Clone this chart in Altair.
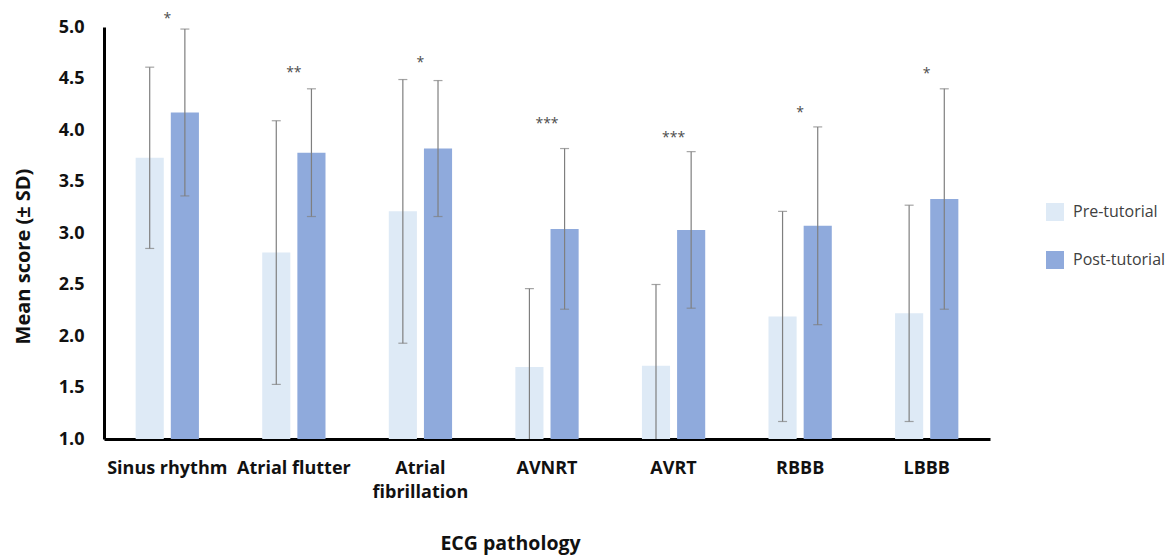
import altair as alt
import pandas as pd

categories = ["Sinus rhythm", "Atrial flutter", "Atrial fibrillation", "AVNRT", "AVRT", "RBBB", "LBBB"]
groups = ["Pre-tutorial", "Post-tutorial"]
pre_mean = [3.73, 2.81, 3.21, 1.70, 1.71, 2.19, 2.22]
pre_sd = [0.88, 1.28, 1.28, 0.76, 0.79, 1.02, 1.05]
post_mean = [4.17, 3.78, 3.82, 3.04, 3.03, 3.07, 3.33]
post_sd = [0.81, 0.62, 0.66, 0.78, 0.76, 0.96, 1.07]
sig_marks = ["*", "**", "*", "***", "***", "*", "*"]
sig_y = [5.12, 4.59, 4.69, 4.10, 3.96, 4.20, 4.58]
y_ticks = [1.0, 1.5, 2.0, 2.5, 3.0, 3.5, 4.0, 4.5, 5.0]
colors = ["#DEEAF6", "#8FAADC"]

rows = []
for i, c in enumerate(categories):
    for g, m, s in ((groups[0], pre_mean[i], pre_sd[i]), (groups[1], post_mean[i], post_sd[i])):
        rows.append({"cat": c, "group": g, "mean": m, "lo": m - s, "hi": m + s})
df = pd.DataFrame(rows)
sig_df = pd.DataFrame({"cat": categories, "sig": sig_marks, "y": sig_y})

FONT = "Open Sans"

x_enc = alt.X(
    "cat:N",
    sort=categories,
    scale=alt.Scale(paddingInner=0.5, paddingOuter=0.25),
    axis=alt.Axis(
        title="ECG pathology",
        labelAngle=0,
        labelFont=FONT,
        labelFontSize=18,
        labelFontWeight="bold",
        labelColor="#111111",
        labelPadding=20,
        labelLineHeight=24,
        labelExpr="datum.label == 'Atrial fibrillation' ? ['Atrial', 'fibrillation'] : datum.label",
        ticks=False,
        domainColor="#000000",
        domainWidth=3,
        titleFont=FONT,
        titleFontSize=19.5,
        titleFontWeight="bold",
        titleColor="#111111",
        titleX=406,
        titleY=104,
        titleAnchor="start",
        titleAlign="center",
        titleBaseline="middle",
    ),
)
y_scale = alt.Scale(domain=[1, 5], zero=False, nice=False)
y_axis = alt.Axis(
    title="Mean score (± SD)",
    values=y_ticks,
    format=".1f",
    grid=False,
    ticks=False,
    labelFont=FONT,
    labelFontSize=18,
    labelFontWeight="bold",
    labelColor="#111111",
    labelPadding=20,
    domainColor="#000000",
    domainWidth=3,
    titleFont=FONT,
    titleFontSize=20,
    titleFontWeight="bold",
    titleColor="#111111",
    titleX=-81,
    titleY=229,
    titleAngle=-90,
    titleAlign="center",
    titleBaseline="middle",
)
xoff = alt.XOffset("group:N", sort=groups, scale=alt.Scale(paddingInner=0.2, paddingOuter=0))

base = alt.Chart(df)

bars = base.mark_bar().encode(
    x=x_enc,
    xOffset=xoff,
    y=alt.Y("mean:Q", scale=y_scale, axis=y_axis),
    y2=alt.datum(1.0),
    color=alt.Color(
        "group:N",
        sort=groups,
        scale=alt.Scale(domain=groups, range=colors),
        legend=alt.Legend(
            title=None,
            orient="none",
            legendX=942,
            legendY=176,
            symbolType="square",
            symbolSize=324,
            symbolStrokeWidth=0,
            labelFont=FONT,
            labelFontSize=16,
            labelColor="#404040",
            labelOffset=9,
            rowPadding=30,
        ),
    ),
)

rules = base.mark_rule(color="#7F7F7F", strokeWidth=1.2, clip=True).encode(
    x=alt.X("cat:N", sort=categories),
    xOffset=xoff,
    y=alt.Y("lo:Q", scale=y_scale),
    y2="hi:Q",
)
caps_hi = base.mark_tick(color="#7F7F7F", thickness=1.2, size=9, orient="horizontal", clip=True).encode(
    x=alt.X("cat:N", sort=categories),
    xOffset=xoff,
    y=alt.Y("hi:Q", scale=y_scale),
)
caps_lo = base.mark_tick(color="#7F7F7F", thickness=1.2, size=9, orient="horizontal", clip=True).encode(
    x=alt.X("cat:N", sort=categories),
    xOffset=xoff,
    y=alt.Y("lo:Q", scale=y_scale),
)
stars = alt.Chart(sig_df).mark_text(font=FONT, fontSize=14, color="#4D4D4D", baseline="middle", dy=4).encode(
    x=alt.X("cat:N", sort=categories),
    y=alt.Y("y:Q", scale=y_scale),
    text="sig:N",
)

chart = (
    alt.layer(bars, rules, caps_hi, caps_lo, stars)
    .properties(
        width=886,
        height=412,
        autosize=alt.AutoSizeParams(type="none"),
        padding={"left": 96, "top": 19, "right": 175, "bottom": 120},
    )
    .configure_view(stroke=None)
)

chart.save("out.html", embed_options={"renderer": "svg", "actions": False})
